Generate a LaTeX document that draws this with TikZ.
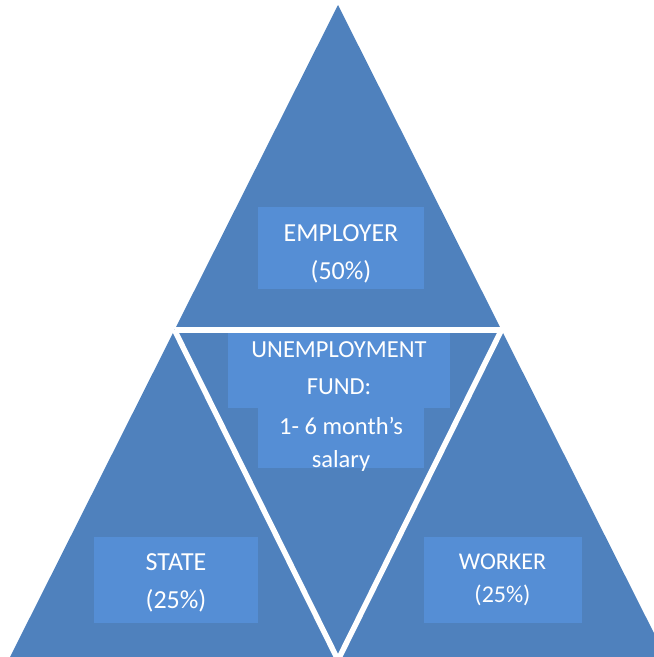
\documentclass[tikz,border=0pt]{standalone}
\usepackage{fontspec}
\setmainfont{Carlito}
\usetikzlibrary{positioning}
\definecolor{triblue}{RGB}{79,129,189}
\definecolor{boxblue}{RGB}{85,142,213}

\begin{document}
\begin{tikzpicture}[x=1pt,y=-1pt,every text node part/.style={align=center}]

\tikzstyle{panel} = [rectangle,fill=boxblue,inner sep=0,outer sep=0]
\tikzstyle{caption} = [text=white,inner sep=0,font=\fontsize{26}{38}\selectfont]
\tikzstyle{divider} = [draw=white,line width=5.5pt]

\useasboundingbox (0,0) rectangle (654,657);
\clip (0,0) rectangle (654,657);

\coordinate (apex) at (338,5);
\coordinate (left_corner) at (10,657);
\coordinate (right_corner) at (666,657);
\coordinate (left_mid) at (174.5,330);
\coordinate (right_mid) at (501.5,330);
\coordinate (bottom_mid) at (338,660);

\fill[triblue] (apex) -- (left_corner) -- (right_corner) -- cycle;
\path[divider] (left_mid) -- (right_mid);
\path[divider] (left_mid) -- (bottom_mid) -- (right_mid);

\node [panel, minimum width=166, minimum height=82] (employer) at (341,248) {};
\node [panel, minimum width=222, minimum height=75] (fund) at (339,370.5) {};
\node [panel, minimum width=166, minimum height=60, below=0pt of fund, xshift=2] (salary) {};
\node [panel, minimum width=164, minimum height=86] (state) at (176,580) {};
\node [panel, minimum width=158, minimum height=86] (worker) at (502.5,580) {};

\node [caption] (employer_text) at ([yshift=-6]employer.center) {EMPLOYER\\(50\%)};
\node [caption, font=\fontsize{24.5}{37}\selectfont] (fund_text) at ([yshift=2]fund.center) {UNEMPLOYMENT\\FUND:};
\node [caption, font=\fontsize{24.5}{33}\selectfont] (salary_text) at ([yshift=-6]salary.center) {1- 6 month’s\\salary};
\node [caption] (state_text) at ([yshift=-3]state.center) {STATE\\(25\%)};
\node [caption, font=\fontsize{24}{33}\selectfont] (worker_text) at (worker.center) {WORKER\\(25\%)};
\end{tikzpicture}
\end{document}
